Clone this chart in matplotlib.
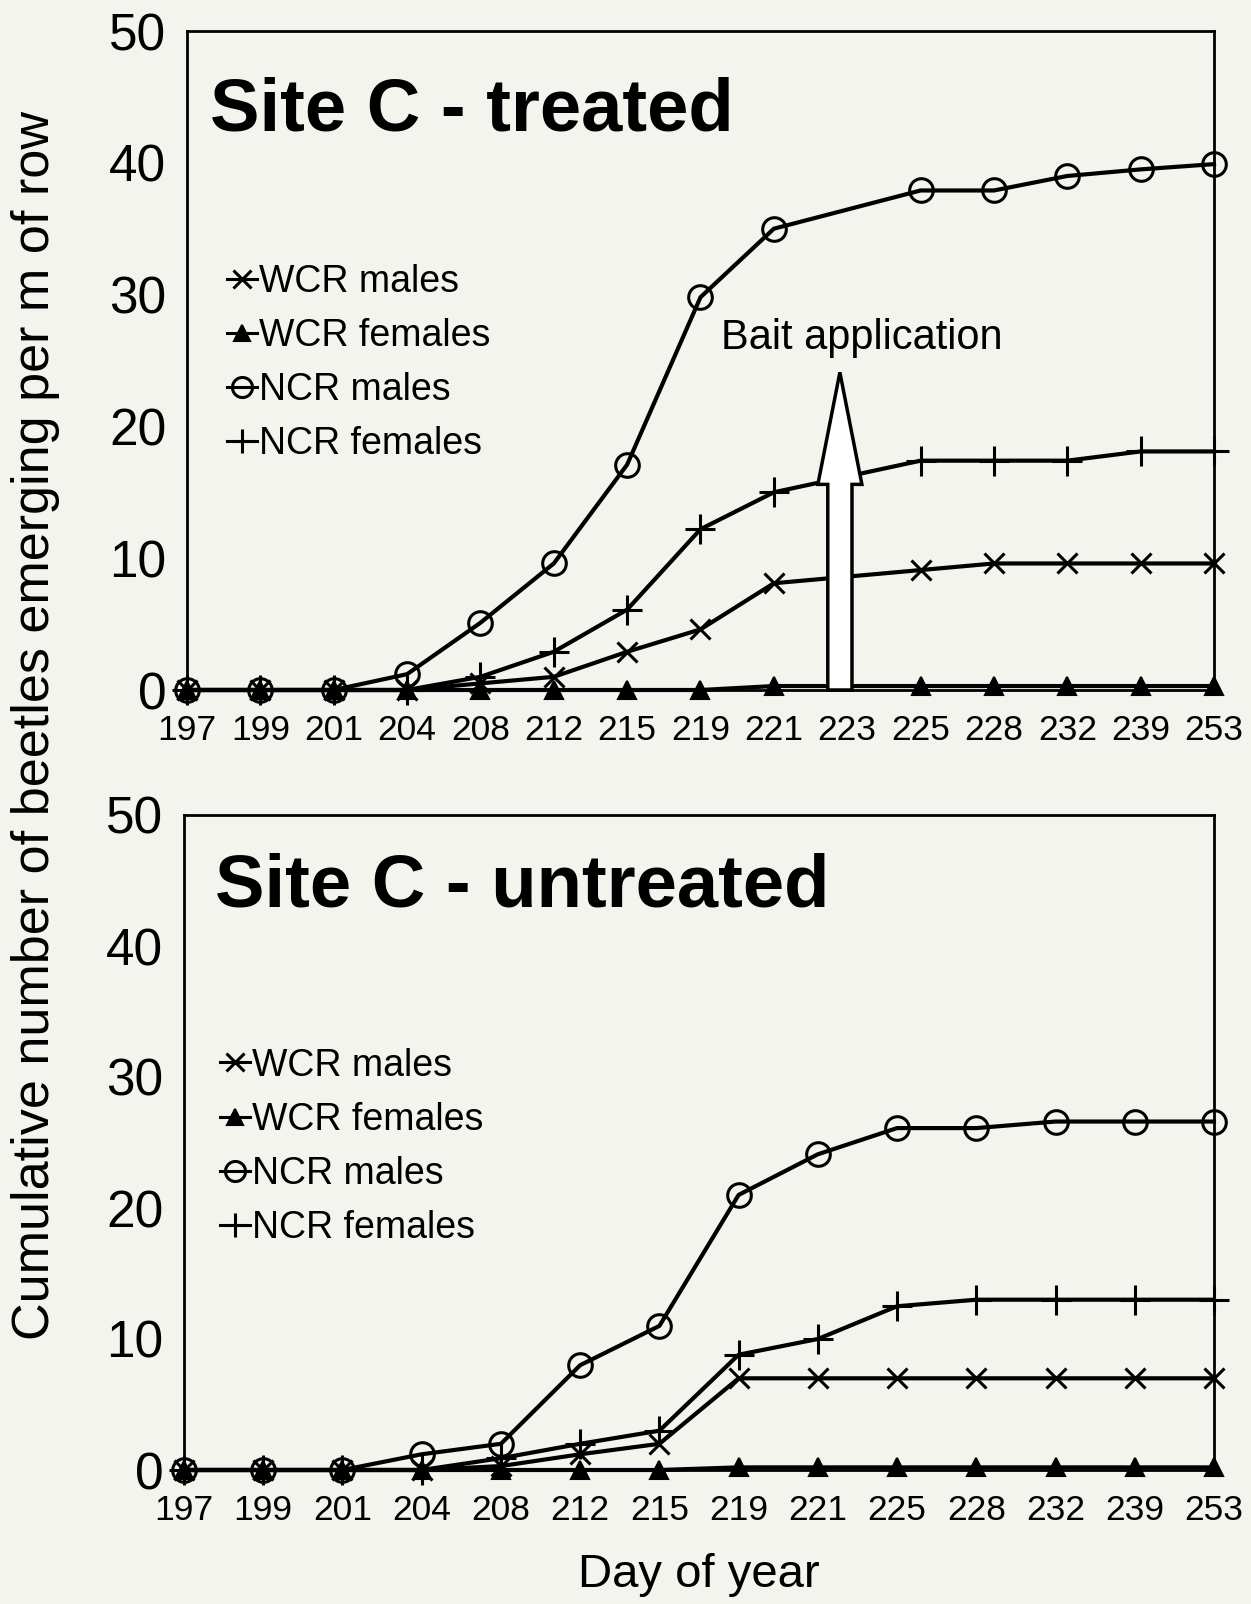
import matplotlib
matplotlib.use("Agg")
import matplotlib.pyplot as plt
from matplotlib.patches import FancyArrow
from matplotlib.lines import Line2D
from matplotlib import font_manager

plt.rcParams['font.family'] = ['Liberation Sans', 'DejaVu Sans']

# ---------------- data ----------------
days_top = ["197", "199", "201", "204", "208", "212", "215", "219", "221", "223",
            "225", "228", "232", "239", "253"]
# sampling dates present in top panel (index into days_top); 223 is only the bait day
top_idx = [0, 1, 2, 3, 4, 5, 6, 7, 8, 10, 11, 12, 13, 14]
top_wcr_m = [0, 0, 0, 0, 0.5, 1.0, 2.9, 4.6, 8.1, 9.1, 9.6, 9.6, 9.6, 9.6]
top_wcr_f = [0, 0, 0, 0, 0, 0, 0, 0, 0.3, 0.3, 0.3, 0.3, 0.3, 0.3]
top_ncr_m = [0, 0, 0, 1.2, 5.1, 9.6, 17.1, 29.8, 35.0, 37.9, 37.9, 39.0, 39.5, 39.9]
top_ncr_f = [0, 0, 0, 0, 1.0, 2.9, 6.1, 12.2, 15.0, 17.4, 17.4, 17.4, 18.1, 18.1]
bait_day_pos = 8.9
bait_label = "Bait application"

days_bot = ["197", "199", "201", "204", "208", "212", "215", "219", "221",
            "225", "228", "232", "239", "253"]
bot_wcr_m = [0, 0, 0, 0, 0.3, 1.2, 2.0, 7.0, 7.0, 7.0, 7.0, 7.0, 7.0, 7.0]
bot_wcr_f = [0, 0, 0, 0, 0, 0, 0, 0.2, 0.2, 0.2, 0.2, 0.2, 0.2, 0.2]
bot_ncr_m = [0, 0, 0, 1.2, 2.0, 8.0, 11.0, 21.0, 24.1, 26.1, 26.1, 26.6, 26.6, 26.6]
bot_ncr_f = [0, 0, 0, 0, 0.9, 2.0, 3.0, 8.8, 10.0, 12.5, 13.0, 13.0, 13.0, 13.0]

series_labels = ["WCR males", "WCR females", "NCR males", "NCR females"]
yticks = [0, 10, 20, 30, 40, 50]

# ---------------- style ----------------
names = {f.name for f in font_manager.fontManager.ttflist}
if 'Liberation Sans Narrow' in names:
    XT_FONT, XT_SIZE = ['Liberation Sans Narrow', 'DejaVu Sans'], 28.5
else:
    XT_FONT, XT_SIZE = ['Liberation Sans', 'DejaVu Sans'], 25.5

BG = "#f4f4ef"
LW = 3.0
styles = [
    dict(marker='x', markersize=15, mew=2.2, mfc='black', mec='black'),
    dict(marker='^', markersize=13, mew=1.5, mfc='black', mec='black'),
    dict(marker='o', markersize=17, mew=2.2, mfc='none', mec='black'),
    dict(marker='+', markersize=21, mew=2.2, mfc='black', mec='black'),
]

W, H = 1251, 1604
fig = plt.figure(figsize=(W / 100, H / 100), dpi=100, facecolor=BG)


def axes_px(l, r, t, b):
    return fig.add_axes([l / W, 1 - b / H, (r - l) / W, (b - t) / H])


ax1 = axes_px(187, 1214, 31, 690)
ax2 = axes_px(184, 1214, 815, 1470)


def style_axes(ax, labels):
    ax.set_facecolor(BG)
    ax.set_xlim(0, len(labels) - 1)
    ax.set_ylim(0, 50)
    ax.set_xticks(range(len(labels)))
    ax.set_xticklabels(labels, fontsize=XT_SIZE, family=XT_FONT)
    ax.set_yticks(yticks)
    ax.set_yticklabels([str(v) for v in yticks], fontsize=37)
    ax.tick_params(axis='x', length=0, pad=17)
    ax.tick_params(axis='y', length=0, pad=15)
    for s in ax.spines.values():
        s.set_linewidth(2.0)
        s.set_color('black')


def draw(ax, labels, xs, data, title, title_pos, leg_anchor):
    style_axes(ax, labels)
    for vals, st in zip(data, styles):
        ax.plot(xs, vals, color='black', lw=LW, clip_on=False, zorder=3, **st)
    ax.text(title_pos[0], title_pos[1], title, transform=ax.transAxes, fontsize=53.5,
            fontweight='bold', ha='left', va='center')
    handles = [Line2D([0], [0], color='black', lw=2.2,
                      **{k: (v * 0.85 if k == 'markersize' else v) for k, v in st.items()})
               for st in styles]
    ax.legend(handles, series_labels, loc='upper left', bbox_to_anchor=leg_anchor,
              frameon=False, fontsize=27, handlelength=0.8, handletextpad=0.05,
              labelspacing=0.485, borderpad=0, borderaxespad=0)


draw(ax1, days_top, top_idx, [top_wcr_m, top_wcr_f, top_ncr_m, top_ncr_f],
     "Site C - treated", (0.022, 0.879), (0.039, 0.647))
draw(ax2, days_bot, list(range(len(days_bot))), [bot_wcr_m, bot_wcr_f, bot_ncr_m, bot_ncr_f],
     "Site C - untreated", (0.03, 0.89), (0.035, 0.645))

# bait application arrow
arrow = FancyArrow(bait_day_pos, 0, 0, 24.1, width=0.33, head_width=0.6,
                   head_length=8.5, length_includes_head=True,
                   facecolor='white', edgecolor='black', lw=2.5, zorder=6, clip_on=False)
ax1.add_patch(arrow)
ax1.text(9.2, 26.7, bait_label, fontsize=30, ha='center', va='center')

fig.text(36 / W, 1 - 726 / H, "Cumulative number of beetles emerging per m of row",
         rotation=90, fontsize=37.5, ha='center', va='center')
fig.text(699 / W, 1 - 1575 / H, "Day of year", fontsize=34, ha='center', va='center')

fig.savefig("out.png", dpi=100, facecolor=BG)
